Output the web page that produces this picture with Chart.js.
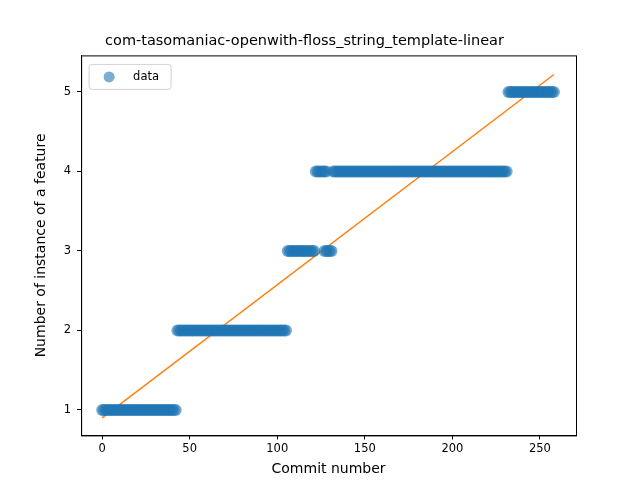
<!DOCTYPE html>
<html>
<head>
<script src="https://cdn.jsdelivr.net/npm/chart.js@4"></script>
<style>
body { margin: 0; background: #fff; }
#wrap { width: 640px; height: 480px; }
</style>
</head>
<body>
<div id="wrap"><canvas id="chart" width="640" height="480"></canvas></div>
<script>
// runs of consecutive commits sharing a value: [first commit, last commit, value]
const runStarts = [0, 43, 106, 122, 127, 132, 232];
const runEnds = [42, 105, 121, 128, 131, 231, 258];
const runValues = [1, 2, 3, 4, 3, 4, 5];
// fitted line endpoints
const fitX = [0, 258];
const fitY = [0.9, 5.22];
const xTicks = [0, 50, 100, 150, 200, 250];
const yTicks = [1, 2, 3, 4, 5];

const points = [];
for (let i = 0; i < runStarts.length; i++) {
  for (let x = runStarts[i]; x <= runEnds[i]; x++) points.push({ x: x, y: runValues[i] });
}

const font = { family: "DejaVu Sans", size: 11.5 };
Chart.defaults.color = "#000";
Chart.defaults.font = font;

// frame around the plot and a matplotlib-like legend box
const framePlugin = {
  id: "frame",
  afterDraw(chart) {
    const a = chart.chartArea, c = chart.ctx;
    c.save();
    c.strokeStyle = "#000";
    c.lineWidth = 1;
    c.strokeRect(a.left + 0.5, a.top + 0.5, a.right - a.left, a.bottom - a.top);
    const lx = a.left + 8, ly = a.top + 9;
    c.strokeStyle = "#d0d0d0";
    c.fillStyle = "rgba(255,255,255,0.8)";
    c.beginPath();
    c.roundRect(lx, ly, 82, 25, 3);
    c.fill();
    c.stroke();
    c.fillStyle = "rgba(31,119,180,0.6)";
    c.beginPath();
    c.arc(lx + 20, ly + 12.5, 5.5, 0, Math.PI * 2);
    c.fill();
    c.fillStyle = "#000";
    c.font = "11.5px 'DejaVu Sans'";
    c.textBaseline = "middle";
    c.fillText(chart.data.datasets[0].label, lx + 44, ly + 12.5);
    c.restore();
  },
};

new Chart(document.getElementById("chart").getContext("2d"), {
  type: "scatter",
  data: {
    datasets: [
      {
        label: "data",
        data: points,
        backgroundColor: "rgba(31,119,180,0.6)",
        borderWidth: 0,
        pointRadius: 6,
        pointHoverRadius: 6,
      },
      {
        label: "fit",
        type: "line",
        data: fitX.map((x, i) => ({ x: x, y: fitY[i] })),
        borderColor: "#ff7f0e",
        borderWidth: 1.5,
        pointRadius: 0,
        fill: false,
      },
    ],
  },
  options: {
    responsive: false,
    animation: false,
    layout: { padding: { left: 33, right: 64, top: 0, bottom: 2 } },
    plugins: {
      title: {
        display: true,
        text: "com-tasomaniac-openwith-floss_string_template-linear",
        font: { family: "DejaVu Sans", size: 14.5, weight: "normal" },
        padding: { top: 33, bottom: 5 },
      },
      legend: { display: false },
      tooltip: { enabled: false },
    },
    scales: {
      x: {
        type: "linear",
        min: -12,
        max: 270.6,
        grid: { drawOnChartArea: false, drawTicks: true, tickLength: 4, color: "#000" },
        border: { color: "#000" },
        ticks: { padding: 3 },
        afterBuildTicks: (s) => { s.ticks = xTicks.map((v) => ({ value: v })); },
        title: { display: true, text: "Commit number", font: { family: "DejaVu Sans", size: 14 }, padding: { top: 2, bottom: 0 } },
      },
      y: {
        min: 0.68,
        max: 5.46,
        grid: { drawOnChartArea: false, drawTicks: true, tickLength: 4, color: "#000" },
        border: { color: "#000" },
        ticks: { padding: 6 },
        afterBuildTicks: (s) => { s.ticks = yTicks.map((v) => ({ value: v })); },
        title: { display: true, text: "Number of instance of a feature", font: { family: "DejaVu Sans", size: 14 }, padding: { top: 0, bottom: 8 } },
      },
    },
  },
  plugins: [framePlugin],
});
</script>
</body>
</html>
